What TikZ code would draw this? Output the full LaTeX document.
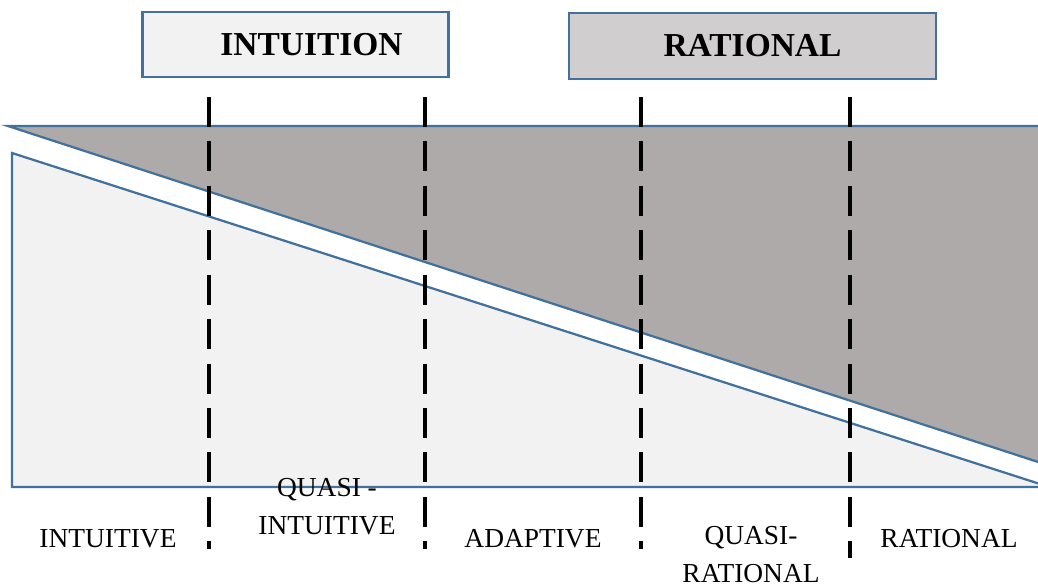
\documentclass[tikz,border=0pt]{standalone}
\usepackage{fontspec}
\setmainfont{Liberation Serif}

\definecolor{edgeblue}{HTML}{41719C}
\definecolor{darkwedge}{HTML}{AEAAAA}
\definecolor{lightwedge}{HTML}{F2F2F2}
\definecolor{ratfill}{HTML}{D0CECE}

\tikzset{
  modebox/.style={draw=edgeblue, line width=1.6pt, minimum width=217.7pt,
    minimum height=46.5pt, inner sep=0pt, font=\fontsize{23.8}{28}\selectfont\bfseries},
  modelabel/.style={inner sep=0pt, align=center, font=\fontsize{19.5}{27}\selectfont},
  divider/.style={line width=2.8pt, dash pattern=on 21.3pt off 10.3pt}
}

\begin{document}
\begin{tikzpicture}[x=0.025cm, y=-0.025cm]
\useasboundingbox (0,0) rectangle (1038,587);

\draw[edgeblue, fill=darkwedge, line width=1.6pt] (8,126) -- (1040,126) -- (1040,462.6) -- cycle;
\draw[edgeblue, fill=lightwedge, line width=1.6pt] (12,153) -- (1040,484) -- (1040,487) -- (12,487) -- cycle;

\node[modebox, fill=lightwedge] (intuition) at (295.5,44.5) {\hspace*{22.8pt}INTUITION};
\node[modebox, fill=ratfill, minimum width=261pt] (rational) at (752.5,46) {RATIONAL};

\foreach \x/\y in {209/549, 425/549, 641/549, 850/558}
  \draw[divider] (\x,97) -- (\x,\y);

\node[modelabel, anchor=base] (intuitive) at (108,547) {INTUITIVE};
\node[modelabel, anchor=north] (quasiint) at (327,478) {QUASI -\\INTUITIVE};
\node[modelabel, anchor=base] (adaptive) at (533,547) {ADAPTIVE};
\node[modelabel, anchor=north] (quasirat) at (751,526) {QUASI-\\RATIONAL};
\node[modelabel, anchor=base] (ratlabel) at (949,547) {RATIONAL};

\end{tikzpicture}
\end{document}
